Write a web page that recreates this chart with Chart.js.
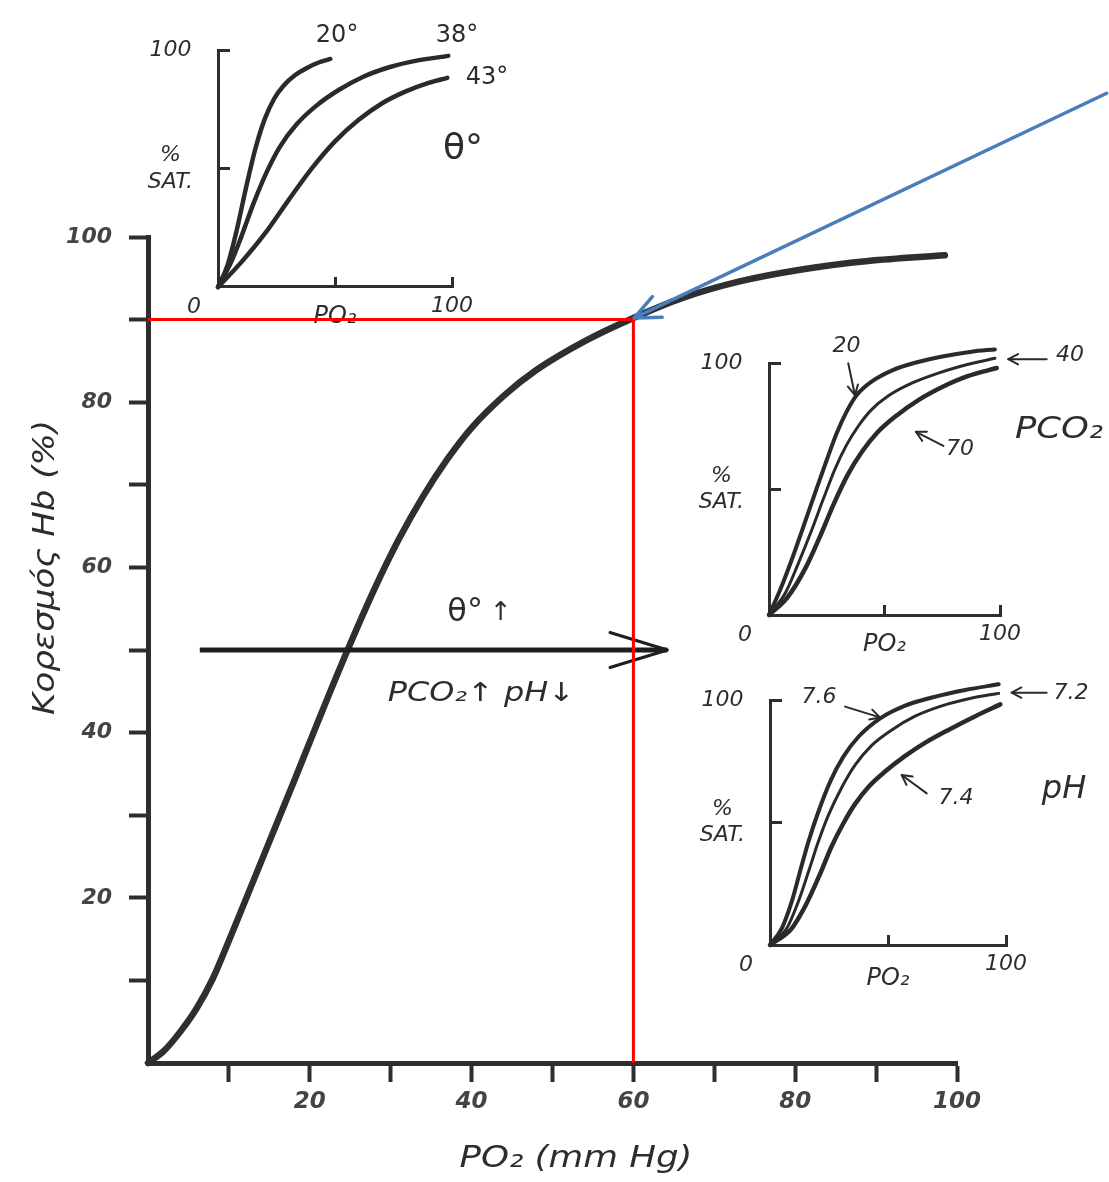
<!DOCTYPE html>
<html>
<head>
<meta charset="utf-8">
<title>Καμπύλη αποδέσμευσης οξυγόνου</title>
<script src="https://cdn.jsdelivr.net/npm/chart.js@4.4.1/dist/chart.umd.min.js"></script>
<style>
  html, body { margin:0; padding:0; background:#ffffff; }
  #stage { position:relative; width:1109px; height:1182px; overflow:hidden; background:#ffffff; }
  #stage canvas { position:absolute; left:0; top:0; }
</style>
</head>
<body>
<div id="stage">
  <canvas id="insetTemp" width="1109" height="1182"></canvas>
  <canvas id="insetPco2" width="1109" height="1182"></canvas>
  <canvas id="insetPh" width="1109" height="1182"></canvas>
  <canvas id="mainChart" width="1109" height="1182"></canvas>
</div>
<script>
// ---------------- DATA ----------------
// Main curve: PO2 (mm Hg) vs Hb saturation (%)
const mainPO2 = [0, 2, 4, 6, 8, 10, 12, 15, 18, 21, 24.5, 28, 31, 34, 37, 40, 44, 48, 54, 60, 66, 73, 81, 89, 98.5];
const mainSat = [0, 1.5, 3.8, 6.6, 10.2, 14.8, 19.6, 26.8, 34.0, 41.3, 49.6, 57.4, 63.4, 68.6, 73.1, 76.9, 80.8, 83.9, 87.4, 90.2, 92.6, 94.6, 96.1, 97.1, 97.8];
const mainTickLabels = [20, 40, 60, 80, 100];

// Reference lines (PO2 60 -> 90 %)
const refPO2 = [0, 60, 60];
const refSat = [90, 90, 0];
// Right-shift arrow
const shiftPO2 = [6.4, 64.2];
const shiftSat = [50, 50];
// Blue pointer arrow
const pointerPO2 = [118.5, 60.1];
const pointerSat = [117.4, 90.2];

// Temperature inset (20°, 38°, 43°)
const tempPO2_20 = [0, 4, 8, 12, 16, 20, 24, 28, 33, 38, 43, 48];
const tempSat_20 = [0, 9, 24, 42, 58.5, 71, 79.5, 85, 89.5, 92.5, 94.8, 96.3];
const tempPO2_38 = [0, 5.8, 10.1, 15.1, 20.8, 26.5, 33.6, 42.2, 52.1, 62.1, 73.5, 84.9, 98.4];
const tempSat_38 = [0, 10.9, 21.6, 35.1, 48.5, 59.3, 68.7, 76.7, 83.5, 88.8, 92.9, 95.6, 97.6];
const tempPO2_43 = [0, 10, 20, 30, 40, 50, 60, 70, 80, 90, 98];
const tempSat_43 = [0, 10.5, 22.5, 36.5, 50, 61.5, 70.5, 77.5, 82.5, 86.2, 88.3];

// PCO2 inset (20, 40, 70)
const pco2PO2_20 = [0, 4.8, 9.8, 14.9, 19.9, 25.0, 29.3, 33.6, 38.0, 44.4, 53.1, 63.2, 76.2, 87.7, 97.8];
const pco2Sat_20 = [0, 9.9, 21.8, 35.1, 48.3, 61.5, 72.1, 80.7, 87.3, 92.6, 97.0, 100.1, 102.8, 104.5, 105.4];
const pco2PO2_40 = [0, 7, 12.7, 18.5, 23.5, 28.6, 33.6, 38.7, 44.4, 51.7, 61.8, 73.3, 86.3, 97.8];
const pco2Sat_40 = [0, 8.6, 20.5, 33.7, 46, 58, 67.5, 75, 81.5, 87, 92, 96, 99.5, 101.9];
const pco2PO2_70 = [0, 8, 16, 22, 28, 34, 40, 47, 55, 65, 75, 86, 98.6];
const pco2Sat_70 = [0, 7, 19, 31, 44, 55.5, 64.5, 72.5, 79, 85.5, 90.5, 94.8, 98];

// pH inset (7.6, 7.2, 7.4)
const phPO2_76 = [0, 5.0, 9.2, 12.7, 16.3, 20.5, 25.5, 31.1, 37.5, 46.7, 57.3, 68.6, 82.7, 96.9];
const phSat_76 = [0, 6.8, 17.7, 29.9, 42.2, 54.4, 66.7, 76.9, 85.0, 92.5, 97.7, 101.0, 104.1, 106.4];
const phPO2_72 = [0, 7.1, 12.0, 16.3, 20.5, 24.8, 30.4, 36.1, 43.1, 51.6, 61.5, 72.8, 85.6, 96.9];
const phSat_72 = [0, 6.8, 17.7, 29.9, 42.2, 53.1, 64.3, 73.5, 81.5, 87.8, 93.4, 97.6, 100.8, 102.7];
const phPO2_74 = [0, 9, 15, 21, 26, 31, 36, 42, 49, 57, 66, 76, 87, 97.6];
const phSat_74 = [0, 6.5, 16, 28.5, 40, 49.5, 57.5, 64.8, 71, 77, 82.7, 88, 93.4, 98.2];

const insetYTicks = { 100: '100', 50: ['%', 'SAT.'] };
const insetXTicks = { 100: '100' };
const insetXTitle = 'PO₂';
const cornerLabel = '0';

// ---------------- STYLE ----------------
const FAMILY = "'DejaVu Sans', 'Liberation Sans', sans-serif";
const INK = '#2a2a2a';
const AXIS = '#2e2e2e';
const CLEAR = 'rgba(0,0,0,0)';

function pts(xs, ys) { return xs.map((x, i) => ({ x: x, y: ys[i] })); }

function drawHead(ctx, x1, y1, x2, y2, len, angDeg, width, color) {
  const a = Math.atan2(y2 - y1, x2 - x1);
  const t = angDeg * Math.PI / 180;
  ctx.save();
  ctx.strokeStyle = color; ctx.lineWidth = width; ctx.lineCap = 'round'; ctx.lineJoin = 'round';
  ctx.beginPath();
  ctx.moveTo(x2 - len * Math.cos(a - t), y2 - len * Math.sin(a - t));
  ctx.lineTo(x2, y2);
  ctx.lineTo(x2 - len * Math.cos(a + t), y2 - len * Math.sin(a + t));
  ctx.stroke();
  ctx.restore();
}

// Annotations (texts and small arrows in data coordinates of each chart)
const decor = {
  mainChart: {
    texts: [
      { t: 'Κορεσμός Hb (%)', x: -12.6, y: 60, font: 'italic 30px ' + FAMILY, w: 295, rot: -90 },
      { t: 'PO₂ (mm Hg)', x: 52.9, y: -11.7, font: 'italic 30px ' + FAMILY, w: 233 },
      { t: 'θ°', x: 39.2, y: 54.5, font: '32px ' + FAMILY },
      { t: '↑', x: 43.6, y: 54.5, font: '26px ' + FAMILY },
      { t: 'PCO₂↑ pH↓', x: 41.2, y: 44.6, font: 'italic 26px ' + FAMILY, w: 187 }
    ],
    arrows: []
  },
  insetTemp: {
    corner: true,
    texts: [
      { t: '20°', x: 50.9, y: 106, font: '24px ' + FAMILY },
      { t: '38°', x: 102.1, y: 106, font: '24px ' + FAMILY },
      { t: '43°', x: 115, y: 88.5, font: '24px ' + FAMILY },
      { t: 'θ°', x: 104.7, y: 58.1, font: '36px ' + FAMILY }
    ],
    arrows: []
  },
  insetPco2: {
    corner: true,
    texts: [
      { t: '20', x: 33.6, y: 106.8, font: 'italic 22px ' + FAMILY },
      { t: '40', x: 130.3, y: 102.9, font: 'italic 22px ' + FAMILY },
      { t: '70', x: 82.7, y: 65.9, font: 'italic 22px ' + FAMILY },
      { t: 'PCO₂', x: 125.5, y: 73.5, font: 'italic 30px ' + FAMILY, w: 88 }
    ],
    arrows: [
      { x1: 34.3, y1: 99.9, x2: 37.2, y2: 87.3 },
      { x1: 120.2, y1: 101.5, x2: 103.6, y2: 101.5 },
      { x1: 75.5, y1: 67.1, x2: 63.6, y2: 72.7 }
    ]
  },
  insetPh: {
    corner: true,
    texts: [
      { t: '7.6', x: 20.8, y: 101, font: 'italic 22px ' + FAMILY },
      { t: '7.2', x: 127.5, y: 102.9, font: 'italic 22px ' + FAMILY },
      { t: '7.4', x: 78.8, y: 60, font: 'italic 22px ' + FAMILY },
      { t: 'pH', x: 124.6, y: 63.3, font: 'italic 32px ' + FAMILY }
    ],
    arrows: [
      { x1: 31.8, y1: 97.3, x2: 46.6, y2: 92.9 },
      { x1: 117.2, y1: 103, x2: 102.4, y2: 103 },
      { x1: 66.4, y1: 61.9, x2: 55.8, y2: 69.4 }
    ]
  }
};

const decorPlugin = {
  id: 'decor',
  afterDatasetDraw(chart, args) {
    const ds = chart.data.datasets[args.index];
    if (!ds.arrowHead) return;
    const els = args.meta.data;
    const a = els[els.length - 2], b = els[els.length - 1];
    drawHead(chart.ctx, a.x, a.y, b.x, b.y, ds.arrowHead.len, ds.arrowHead.angle, ds.arrowHead.width, ds.borderColor);
  },
  afterDraw(chart) {
    const d = decor[chart.canvas.id];
    if (!d) return;
    const ctx = chart.ctx, sx = chart.scales.x, sy = chart.scales.y;
    (d.arrows || []).forEach(a => {
      const x1 = sx.getPixelForValue(a.x1), y1 = sy.getPixelForValue(a.y1);
      const x2 = sx.getPixelForValue(a.x2), y2 = sy.getPixelForValue(a.y2);
      ctx.save();
      ctx.strokeStyle = INK; ctx.lineWidth = 2; ctx.lineCap = 'round';
      ctx.beginPath(); ctx.moveTo(x1, y1); ctx.lineTo(x2, y2); ctx.stroke();
      ctx.restore();
      drawHead(ctx, x1, y1, x2, y2, 11, 28, 2, INK);
    });
    (d.texts || []).forEach(tx => {
      ctx.save();
      ctx.translate(sx.getPixelForValue(tx.x), sy.getPixelForValue(tx.y));
      if (tx.rot) ctx.rotate(tx.rot * Math.PI / 180);
      ctx.font = tx.font;
      ctx.fillStyle = '#2d2d2d';
      ctx.textAlign = 'center';
      ctx.textBaseline = 'middle';
      if (tx.w) { const m = ctx.measureText(tx.t).width; ctx.scale(tx.w / m, 1); }
      ctx.fillText(tx.t, 0, 0);
      ctx.restore();
    });
    if (d.corner) {
      ctx.save();
      ctx.font = 'italic 22px ' + FAMILY;
      ctx.fillStyle = '#2d2d2d';
      ctx.textAlign = 'center'; ctx.textBaseline = 'middle';
      ctx.fillText(cornerLabel, sx.getPixelForValue(0) - 24, sy.getPixelForValue(0) + 20);
      ctx.restore();
    }
  }
};

function hideZero(ctx) { return (ctx.tick && ctx.tick.value === 0) ? CLEAR : AXIS; }

const baseOptions = {
  responsive: false,
  animation: false,
  devicePixelRatio: 1,
  events: [],
  plugins: { legend: { display: false }, tooltip: { enabled: false } }
};

// ---------------- MAIN CHART ----------------
const W = 1109, H = 1182;
new Chart(document.getElementById('mainChart'), {
  type: 'line',
  data: {
    datasets: [
      { data: pts(pointerPO2, pointerSat), borderColor: '#4a7ebb', borderWidth: 3.5, pointRadius: 0, clip: false,
        borderCapStyle: 'round', arrowHead: { len: 28, angle: 24, width: 3.5 } },
      { data: pts(refPO2, refSat), borderColor: '#ff0000', borderWidth: 3, pointRadius: 0, clip: false },
      { data: pts(shiftPO2, shiftSat), borderColor: '#1e1e1e', borderWidth: 5, pointRadius: 0, clip: false,
        arrowHead: { len: 60, angle: 17, width: 3 } },
      { data: pts(mainPO2, mainSat), borderColor: '#2f2f2f', borderWidth: 6.5, pointRadius: 0, clip: false,
        cubicInterpolationMode: 'monotone', borderCapStyle: 'round' }
    ]
  },
  options: Object.assign({}, baseOptions, {
    layout: { padding: { left: 0, top: 237, right: W - 957, bottom: 0 } },
    scales: {
      x: {
        type: 'linear', min: 0, max: 100,
        afterFit: s => { s.height = H - 1063; },
        border: { display: true, width: 5, color: AXIS },
        grid: { drawOnChartArea: false, drawTicks: true, tickLength: 19, tickWidth: 4, tickColor: hideZero },
        ticks: { stepSize: 10, autoSkip: false, maxRotation: 0, padding: 6, color: '#444',
          font: { family: FAMILY, size: 23, style: 'italic', weight: 'bold' },
          callback: v => mainTickLabels.includes(v) ? String(v) : '' }
      },
      y: {
        type: 'linear', min: 0, max: 100,
        afterFit: s => { s.width = 148; },
        border: { display: true, width: 5, color: AXIS },
        grid: { drawOnChartArea: false, drawTicks: true, tickLength: 19, tickWidth: 4, tickColor: hideZero },
        ticks: { stepSize: 10, autoSkip: false, padding: 17, color: '#444',
          font: { family: FAMILY, size: 22, style: 'italic', weight: 'bold' },
          callback: v => mainTickLabels.includes(v) ? String(v) : '' }
      }
    }
  }),
  plugins: [decorPlugin]
});

// ---------------- INSETS ----------------
function makeInset(id, box, series, titleH) {
  return new Chart(document.getElementById(id), {
    type: 'line',
    data: {
      datasets: series.map(s => ({
        data: pts(s.x, s.y), borderColor: INK, borderWidth: s.w, pointRadius: 0, clip: false,
        cubicInterpolationMode: 'monotone', borderCapStyle: 'round'
      }))
    },
    options: Object.assign({}, baseOptions, {
      layout: { padding: { left: 0, top: box.top, right: W - box.right, bottom: H - box.bottom - titleH } },
      scales: {
        x: {
          type: 'linear', min: 0, max: 100,
          afterFit: s => { s.height = titleH; },
          border: { display: true, width: 3, color: AXIS },
          grid: { drawOnChartArea: false, drawTicks: true, tickLength: -10, tickWidth: 3, tickColor: hideZero },
          ticks: { stepSize: 50, autoSkip: false, maxRotation: 0, padding: 16, color: '#2d2d2d',
            font: { family: FAMILY, size: 22, style: 'italic' },
            callback: v => insetXTicks[v] || '' },
          title: { display: true, text: insetXTitle, color: '#2d2d2d', padding: { top: 0, bottom: 0 },
            font: { family: FAMILY, size: 24, style: 'italic' } }
        },
        y: {
          type: 'linear', min: 0, max: 100,
          afterFit: s => { s.width = box.left; },
          border: { display: true, width: 3, color: AXIS },
          grid: { drawOnChartArea: false, drawTicks: true, tickLength: -12, tickWidth: 3, tickColor: hideZero },
          ticks: { stepSize: 50, autoSkip: false, padding: 37, crossAlign: 'center', color: '#2d2d2d',
            font: { family: FAMILY, size: 22, style: 'italic' },
            callback: v => insetYTicks[v] || '' }
        }
      }
    }),
    plugins: [decorPlugin]
  });
}

makeInset('insetTemp', { left: 218, right: 452, top: 39, bottom: 287 }, [
  { x: tempPO2_20, y: tempSat_20, w: 4.5 },
  { x: tempPO2_38, y: tempSat_38, w: 4.5 },
  { x: tempPO2_43, y: tempSat_43, w: 4.5 }
], 44);

makeInset('insetPco2', { left: 769, right: 1000, top: 363, bottom: 615 }, [
  { x: pco2PO2_20, y: pco2Sat_20, w: 4 },
  { x: pco2PO2_40, y: pco2Sat_40, w: 3 },
  { x: pco2PO2_70, y: pco2Sat_70, w: 4.5 }
], 44);

makeInset('insetPh', { left: 770, right: 1006, top: 700, bottom: 945 }, [
  { x: phPO2_76, y: phSat_76, w: 4 },
  { x: phPO2_72, y: phSat_72, w: 3 },
  { x: phPO2_74, y: phSat_74, w: 4.5 }
], 48);
</script>
</body>
</html>
